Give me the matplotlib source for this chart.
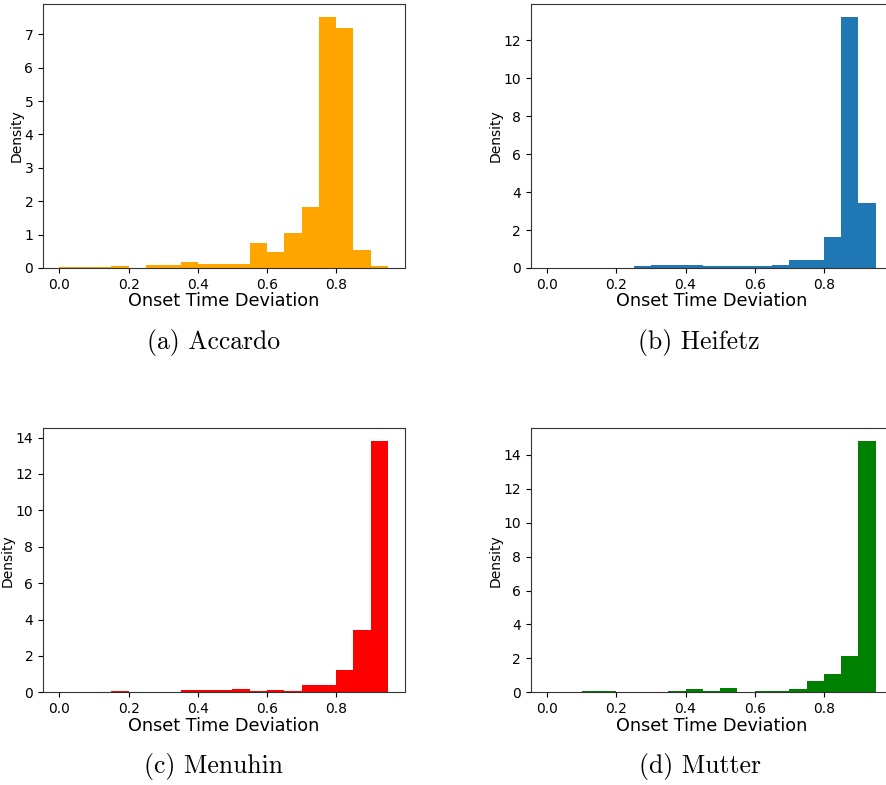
"""Histogramas de desviación del tiempo de ataque para cuatro violinistas."""

import matplotlib
import matplotlib.pyplot as plt
import numpy as np

matplotlib.use("Agg")

# Bordes de los intervalos (0.00 a 0.95, paso 0.05)
bordes = np.round(np.arange(0, 0.951, 0.05), 2)

densidad_accardo = [0.02, 0.02, 0.02, 0.05, 0.01, 0.08, 0.08, 0.17, 0.11, 0.11,
                    0.11, 0.74, 0.47, 1.04, 1.84, 7.53, 7.20, 0.53, 0.05]
densidad_heifetz = [0.01, 0.01, 0.01, 0.01, 0.01, 0.09, 0.14, 0.14, 0.14, 0.09,
                    0.09, 0.09, 0.09, 0.14, 0.40, 0.40, 1.61, 13.25, 3.40]
densidad_menuhin = [0.01, 0.01, 0.01, 0.05, 0.01, 0.04, 0.04, 0.10, 0.10, 0.10,
                    0.16, 0.05, 0.10, 0.05, 0.38, 0.38, 1.21, 3.45, 13.82]
densidad_mutter = [0.01, 0.01, 0.05, 0.05, 0.01, 0.04, 0.04, 0.10, 0.17, 0.10,
                   0.23, 0.02, 0.10, 0.10, 0.17, 0.64, 1.05, 2.12, 14.82]

subtitulos = ["(a) Accardo", "(b) Heifetz", "(c) Menuhin", "(d) Mutter"]
colores = ["orange", "#1f77b4", "red", "green"]
series = [densidad_accardo, densidad_heifetz, densidad_menuhin, densidad_mutter]

ANCHO, ALTO = 886, 785
fig = plt.figure(figsize=(ANCHO / 100, ALTO / 100), dpi=100)

# posiciones en píxeles: (izquierda, arriba) de cada eje y centro del subtítulo
ejes_px = [(43, 4), (530.7, 4), (43, 428.3), (530.7, 428.3)]
centro_sub = [213.5, 699, 214, 700]
base_sub = [349, 349, 773, 773]
ancho_eje, alto_eje = 361.5, 264

for i, (valores, color) in enumerate(zip(series, colores)):
    x0, y0 = ejes_px[i]
    ax = fig.add_axes([x0 / ANCHO, 1 - (y0 + alto_eje) / ALTO,
                       ancho_eje / ANCHO, alto_eje / ALTO])
    ax.bar(bordes[:-1], valores, width=0.05, align="edge", color=color,
           linewidth=0)
    ax.set_xticks([0.0, 0.2, 0.4, 0.6, 0.8])
    ax.tick_params(labelsize=10)
    ax.set_xlabel("Onset Time Deviation", fontsize=12.7, labelpad=0.5)
    ax.set_ylabel("Density", fontsize=10, labelpad=0.5)
    for lado in ax.spines.values():
        lado.set_color("#333333")

    fig.text(centro_sub[i] / ANCHO, 1 - base_sub[i] / ALTO, subtitulos[i],
             ha="center", va="baseline", fontsize=18.5, family="cmr10")

fig.savefig("out.png", dpi=100)
plt.close(fig)
